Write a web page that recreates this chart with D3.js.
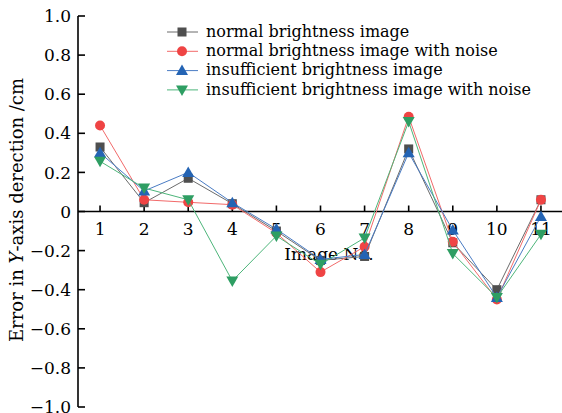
<!DOCTYPE html>
<html><head><meta charset="utf-8">
<script src="https://cdn.jsdelivr.net/npm/d3@7"></script>
<style>body{margin:0;background:#fff}svg{display:block}</style>
</head><body><svg id="c" width="562" height="413"></svg>
<script>
const images = [1,2,3,4,5,6,7,8,9,10,11];
const normal = [0.33,0.045,0.17,0.04,-0.10,-0.25,-0.23,0.32,-0.16,-0.40,0.06];
const normalNoise = [0.44,0.06,0.047,0.035,-0.11,-0.31,-0.18,0.485,-0.155,-0.45,0.06];
const insufficient = [0.30,0.105,0.20,0.045,-0.09,-0.245,-0.22,0.30,-0.095,-0.44,-0.025];
const insufficientNoise = [0.257,0.12,0.06,-0.355,-0.125,-0.27,-0.135,0.46,-0.215,-0.44,-0.117];
const seriesNames = ["normal brightness image","normal brightness image with noise","insufficient brightness image","insufficient brightness image with noise"];
const yTicks = [-1.0,-0.8,-0.6,-0.4,-0.2,0,0.2,0.4,0.6,0.8,1.0];

const series = [
  {name: seriesNames[0], values: normal, line:"#6b6b6b", fill:"#4f4f4f", sym:"square"},
  {name: seriesNames[1], values: normalNoise, line:"#f26a6a", fill:"#ef4444", sym:"circle"},
  {name: seriesNames[2], values: insufficient, line:"#4a7cc4", fill:"#2464b4", sym:"up"},
  {name: seriesNames[3], values: insufficientNoise, line:"#4db57a", fill:"#2e9e63", sym:"down"}
];

const svg = d3.select("#c");
const font = "'DejaVu Serif', serif";
const x = d3.scaleLinear().domain([0.5, 11.5]).range([78, 563]);
const y = d3.scaleLinear().domain([-1, 1]).range([407, 16]);

svg.append("line").attr("x1",x(0.5)).attr("x2",x(0.5)).attr("y1",y(1)).attr("y2",y(-1)).attr("stroke","#000").attr("stroke-width",1.6);
svg.append("line").attr("x1",x(0.5)).attr("x2",562).attr("y1",y(0)).attr("y2",y(0)).attr("stroke","#000").attr("stroke-width",1.6);
yTicks.forEach(t=>{
  svg.append("line").attr("x1",x(0.5)).attr("x2",x(0.5)+7).attr("y1",y(t)).attr("y2",y(t)).attr("stroke","#000").attr("stroke-width",1.6);
  svg.append("text").attr("x",71).attr("y",y(t)).attr("dy","0.36em").attr("text-anchor","end")
    .attr("font-family",font).attr("font-size",17).text(t===0?"0":d3.format(".1f")(t).replace("-","\u2212"));
});
images.forEach(i=>{
  svg.append("line").attr("x1",x(i)).attr("x2",x(i)).attr("y1",y(0)).attr("y2",y(0)-6).attr("stroke","#000").attr("stroke-width",1.6);
  svg.append("text").attr("x",x(i)).attr("y",y(0)+17).attr("dy","0.36em").attr("text-anchor","middle")
    .attr("font-family",font).attr("font-size",17).text(i);
});
svg.append("text").attr("x",329).attr("y",254).attr("dy","0.36em").attr("text-anchor","middle")
  .attr("font-family",font).attr("font-size",17).text("Image No.");
const yl = svg.append("text").attr("transform","translate(17,210) rotate(-90)").attr("text-anchor","middle")
  .attr("font-family",font).attr("font-size",18).attr("dy","0.33em");
yl.append("tspan").text("Error in ");
yl.append("tspan").attr("font-style","italic").text("Y");
yl.append("tspan").text("-axis derection /cm");

function marker(g, sym, cx, cy, fill){
  if(sym==="square") g.append("rect").attr("x",cx-4.5).attr("y",cy-4.5).attr("width",9).attr("height",9).attr("fill",fill);
  else if(sym==="circle") g.append("circle").attr("cx",cx).attr("cy",cy).attr("r",5).attr("fill",fill);
  else if(sym==="up") g.append("path").attr("d",`M${cx},${cy-6}L${cx+6},${cy+4.5}L${cx-6},${cy+4.5}Z`).attr("fill",fill);
  else g.append("path").attr("d",`M${cx},${cy+6}L${cx+6},${cy-4.5}L${cx-6},${cy-4.5}Z`).attr("fill",fill);
}

const line = d3.line().x((d,i)=>x(images[i])).y(d=>y(d));
series.forEach(s=>{
  const g = svg.append("g");
  g.append("path").attr("d",line(s.values)).attr("fill","none").attr("stroke",s.line).attr("stroke-width",1);
  s.values.forEach((v,i)=>marker(g,s.sym,x(images[i]),y(v),s.fill));
});

series.forEach((s,i)=>{
  const ly = 32 + i*19.3;
  const g = svg.append("g");
  g.append("line").attr("x1",167).attr("x2",198).attr("y1",ly).attr("y2",ly).attr("stroke",s.line).attr("stroke-width",1);
  marker(g,s.sym,182,ly,s.fill);
  g.append("text").attr("x",206).attr("y",ly).attr("dy","0.3em").attr("font-family",font).attr("font-size",16).text(s.name);
});
</script></body></html>
